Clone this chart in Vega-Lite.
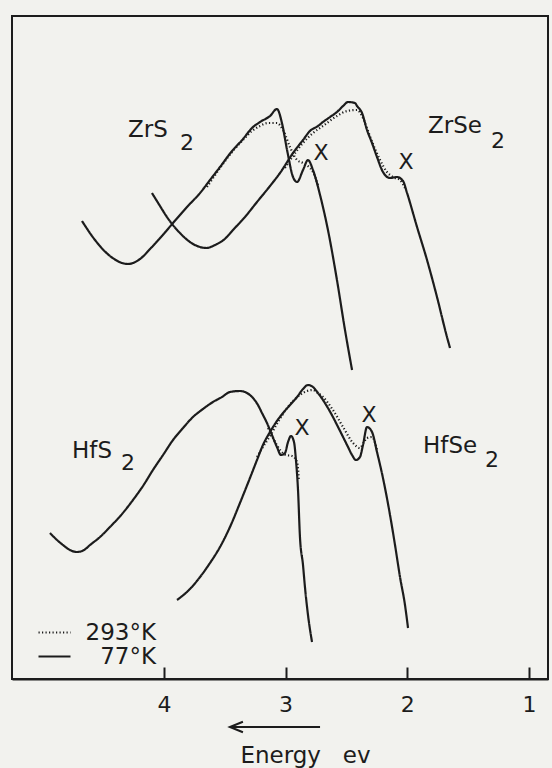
{
  "$schema": "https://vega.github.io/schema/vega-lite/v6.json",
  "width": 536,
  "height": 663,
  "autosize": {"type": "none"},
  "padding": {"left": 12, "top": 16, "right": 4, "bottom": 89},
  "background": "#f2f2ee",
  "config": {
    "view": {"stroke": "#1c1c1c", "strokeWidth": 2},
    "font": "DejaVu Sans"
  },
  "datasets": {
    "curves": [
      {"s": "ZrS2", "t": "77°K", "E": 4.673, "A": 458},
      {"s": "ZrS2", "t": "77°K", "E": 4.566, "A": 439},
      {"s": "ZrS2", "t": "77°K", "E": 4.443, "A": 423},
      {"s": "ZrS2", "t": "77°K", "E": 4.295, "A": 415},
      {"s": "ZrS2", "t": "77°K", "E": 4.196, "A": 420},
      {"s": "ZrS2", "t": "77°K", "E": 4.114, "A": 430},
      {"s": "ZrS2", "t": "77°K", "E": 4.016, "A": 443},
      {"s": "ZrS2", "t": "77°K", "E": 3.925, "A": 456},
      {"s": "ZrS2", "t": "77°K", "E": 3.810, "A": 472},
      {"s": "ZrS2", "t": "77°K", "E": 3.703, "A": 486},
      {"s": "ZrS2", "t": "77°K", "E": 3.621, "A": 499},
      {"s": "ZrS2", "t": "77°K", "E": 3.539, "A": 512},
      {"s": "ZrS2", "t": "77°K", "E": 3.440, "A": 528},
      {"s": "ZrS2", "t": "77°K", "E": 3.350, "A": 540},
      {"s": "ZrS2", "t": "77°K", "E": 3.276, "A": 551},
      {"s": "ZrS2", "t": "77°K", "E": 3.210, "A": 557},
      {"s": "ZrS2", "t": "77°K", "E": 3.128, "A": 563},
      {"s": "ZrS2", "t": "77°K", "E": 3.071, "A": 570},
      {"s": "ZrS2", "t": "77°K", "E": 3.030, "A": 556},
      {"s": "ZrS2", "t": "77°K", "E": 2.988, "A": 529},
      {"s": "ZrS2", "t": "77°K", "E": 2.939, "A": 502},
      {"s": "ZrS2", "t": "77°K", "E": 2.906, "A": 497},
      {"s": "ZrS2", "t": "77°K", "E": 2.857, "A": 509},
      {"s": "ZrS2", "t": "77°K", "E": 2.816, "A": 519},
      {"s": "ZrS2", "t": "77°K", "E": 2.775, "A": 509},
      {"s": "ZrS2", "t": "77°K", "E": 2.717, "A": 484},
      {"s": "ZrS2", "t": "77°K", "E": 2.652, "A": 449},
      {"s": "ZrS2", "t": "77°K", "E": 2.578, "A": 399},
      {"s": "ZrS2", "t": "77°K", "E": 2.512, "A": 349},
      {"s": "ZrS2", "t": "77°K", "E": 2.454, "A": 309},

      {"s": "ZrS2", "t": "293°K", "E": 3.646, "A": 492},
      {"s": "ZrS2", "t": "293°K", "E": 3.539, "A": 511},
      {"s": "ZrS2", "t": "293°K", "E": 3.440, "A": 527},
      {"s": "ZrS2", "t": "293°K", "E": 3.350, "A": 539},
      {"s": "ZrS2", "t": "293°K", "E": 3.276, "A": 548},
      {"s": "ZrS2", "t": "293°K", "E": 3.210, "A": 553},
      {"s": "ZrS2", "t": "293°K", "E": 3.145, "A": 556},
      {"s": "ZrS2", "t": "293°K", "E": 3.071, "A": 556},
      {"s": "ZrS2", "t": "293°K", "E": 3.021, "A": 549},
      {"s": "ZrS2", "t": "293°K", "E": 2.964, "A": 532},
      {"s": "ZrS2", "t": "293°K", "E": 2.906, "A": 519},
      {"s": "ZrS2", "t": "293°K", "E": 2.857, "A": 516},
      {"s": "ZrS2", "t": "293°K", "E": 2.816, "A": 513},
      {"s": "ZrS2", "t": "293°K", "E": 2.775, "A": 507},
      {"s": "ZrS2", "t": "293°K", "E": 2.734, "A": 494},

      {"s": "ZrSe2", "t": "77°K", "E": 4.098, "A": 486},
      {"s": "ZrSe2", "t": "77°K", "E": 4.032, "A": 473},
      {"s": "ZrSe2", "t": "77°K", "E": 3.975, "A": 462},
      {"s": "ZrSe2", "t": "77°K", "E": 3.868, "A": 446},
      {"s": "ZrSe2", "t": "77°K", "E": 3.786, "A": 437},
      {"s": "ZrSe2", "t": "77°K", "E": 3.703, "A": 432},
      {"s": "ZrSe2", "t": "77°K", "E": 3.650, "A": 431},
      {"s": "ZrSe2", "t": "77°K", "E": 3.580, "A": 434},
      {"s": "ZrSe2", "t": "77°K", "E": 3.500, "A": 440},
      {"s": "ZrSe2", "t": "77°K", "E": 3.432, "A": 449},
      {"s": "ZrSe2", "t": "77°K", "E": 3.334, "A": 462},
      {"s": "ZrSe2", "t": "77°K", "E": 3.235, "A": 477},
      {"s": "ZrSe2", "t": "77°K", "E": 3.128, "A": 493},
      {"s": "ZrSe2", "t": "77°K", "E": 3.046, "A": 506},
      {"s": "ZrSe2", "t": "77°K", "E": 2.939, "A": 526},
      {"s": "ZrSe2", "t": "77°K", "E": 2.857, "A": 539},
      {"s": "ZrSe2", "t": "77°K", "E": 2.800, "A": 548},
      {"s": "ZrSe2", "t": "77°K", "E": 2.734, "A": 553},
      {"s": "ZrSe2", "t": "77°K", "E": 2.693, "A": 557},
      {"s": "ZrSe2", "t": "77°K", "E": 2.635, "A": 562},
      {"s": "ZrSe2", "t": "77°K", "E": 2.578, "A": 567},
      {"s": "ZrSe2", "t": "77°K", "E": 2.528, "A": 573},
      {"s": "ZrSe2", "t": "77°K", "E": 2.487, "A": 577},
      {"s": "ZrSe2", "t": "77°K", "E": 2.430, "A": 576},
      {"s": "ZrSe2", "t": "77°K", "E": 2.413, "A": 573},
      {"s": "ZrSe2", "t": "77°K", "E": 2.372, "A": 566},
      {"s": "ZrSe2", "t": "77°K", "E": 2.331, "A": 549},
      {"s": "ZrSe2", "t": "77°K", "E": 2.290, "A": 536},
      {"s": "ZrSe2", "t": "77°K", "E": 2.249, "A": 522},
      {"s": "ZrSe2", "t": "77°K", "E": 2.200, "A": 507},
      {"s": "ZrSe2", "t": "77°K", "E": 2.142, "A": 501},
      {"s": "ZrSe2", "t": "77°K", "E": 2.085, "A": 502},
      {"s": "ZrSe2", "t": "77°K", "E": 2.035, "A": 498},
      {"s": "ZrSe2", "t": "77°K", "E": 2.002, "A": 486},
      {"s": "ZrSe2", "t": "77°K", "E": 1.920, "A": 452},
      {"s": "ZrSe2", "t": "77°K", "E": 1.838, "A": 419},
      {"s": "ZrSe2", "t": "77°K", "E": 1.756, "A": 382},
      {"s": "ZrSe2", "t": "77°K", "E": 1.674, "A": 342},
      {"s": "ZrSe2", "t": "77°K", "E": 1.649, "A": 331},

      {"s": "ZrSe2", "t": "293°K", "E": 3.005, "A": 511},
      {"s": "ZrSe2", "t": "293°K", "E": 2.939, "A": 523},
      {"s": "ZrSe2", "t": "293°K", "E": 2.857, "A": 536},
      {"s": "ZrSe2", "t": "293°K", "E": 2.775, "A": 546},
      {"s": "ZrSe2", "t": "293°K", "E": 2.693, "A": 553},
      {"s": "ZrSe2", "t": "293°K", "E": 2.578, "A": 563},
      {"s": "ZrSe2", "t": "293°K", "E": 2.495, "A": 568},
      {"s": "ZrSe2", "t": "293°K", "E": 2.413, "A": 569},
      {"s": "ZrSe2", "t": "293°K", "E": 2.364, "A": 561},
      {"s": "ZrSe2", "t": "293°K", "E": 2.323, "A": 548},
      {"s": "ZrSe2", "t": "293°K", "E": 2.282, "A": 535},
      {"s": "ZrSe2", "t": "293°K", "E": 2.224, "A": 519},
      {"s": "ZrSe2", "t": "293°K", "E": 2.167, "A": 507},
      {"s": "ZrSe2", "t": "293°K", "E": 2.118, "A": 502},
      {"s": "ZrSe2", "t": "293°K", "E": 2.060, "A": 499},
      {"s": "ZrSe2", "t": "293°K", "E": 2.019, "A": 491},

      {"s": "HfS2", "t": "77°K", "E": 4.936, "A": 146},
      {"s": "HfS2", "t": "77°K", "E": 4.878, "A": 139},
      {"s": "HfS2", "t": "77°K", "E": 4.829, "A": 134},
      {"s": "HfS2", "t": "77°K", "E": 4.772, "A": 129},
      {"s": "HfS2", "t": "77°K", "E": 4.714, "A": 127},
      {"s": "HfS2", "t": "77°K", "E": 4.656, "A": 129},
      {"s": "HfS2", "t": "77°K", "E": 4.607, "A": 134},
      {"s": "HfS2", "t": "77°K", "E": 4.525, "A": 142},
      {"s": "HfS2", "t": "77°K", "E": 4.443, "A": 152},
      {"s": "HfS2", "t": "77°K", "E": 4.344, "A": 165},
      {"s": "HfS2", "t": "77°K", "E": 4.254, "A": 179},
      {"s": "HfS2", "t": "77°K", "E": 4.172, "A": 193},
      {"s": "HfS2", "t": "77°K", "E": 4.090, "A": 209},
      {"s": "HfS2", "t": "77°K", "E": 4.007, "A": 224},
      {"s": "HfS2", "t": "77°K", "E": 3.925, "A": 239},
      {"s": "HfS2", "t": "77°K", "E": 3.843, "A": 251},
      {"s": "HfS2", "t": "77°K", "E": 3.761, "A": 262},
      {"s": "HfS2", "t": "77°K", "E": 3.679, "A": 270},
      {"s": "HfS2", "t": "77°K", "E": 3.597, "A": 277},
      {"s": "HfS2", "t": "77°K", "E": 3.523, "A": 282},
      {"s": "HfS2", "t": "77°K", "E": 3.457, "A": 287},
      {"s": "HfS2", "t": "77°K", "E": 3.375, "A": 288},
      {"s": "HfS2", "t": "77°K", "E": 3.317, "A": 286},
      {"s": "HfS2", "t": "77°K", "E": 3.268, "A": 281},
      {"s": "HfS2", "t": "77°K", "E": 3.227, "A": 274},
      {"s": "HfS2", "t": "77°K", "E": 3.194, "A": 266},
      {"s": "HfS2", "t": "77°K", "E": 3.153, "A": 256},
      {"s": "HfS2", "t": "77°K", "E": 3.112, "A": 244},
      {"s": "HfS2", "t": "77°K", "E": 3.071, "A": 232},
      {"s": "HfS2", "t": "77°K", "E": 3.038, "A": 224},
      {"s": "HfS2", "t": "77°K", "E": 3.005, "A": 226},
      {"s": "HfS2", "t": "77°K", "E": 2.980, "A": 237},
      {"s": "HfS2", "t": "77°K", "E": 2.956, "A": 243},
      {"s": "HfS2", "t": "77°K", "E": 2.931, "A": 237},
      {"s": "HfS2", "t": "77°K", "E": 2.915, "A": 219},
      {"s": "HfS2", "t": "77°K", "E": 2.898, "A": 189},
      {"s": "HfS2", "t": "77°K", "E": 2.882, "A": 142},
      {"s": "HfS2", "t": "77°K", "E": 2.857, "A": 114},
      {"s": "HfS2", "t": "77°K", "E": 2.841, "A": 92},
      {"s": "HfS2", "t": "77°K", "E": 2.816, "A": 64},
      {"s": "HfS2", "t": "77°K", "E": 2.783, "A": 37},

      {"s": "HfS2", "t": "293°K", "E": 3.145, "A": 251},
      {"s": "HfS2", "t": "293°K", "E": 3.095, "A": 239},
      {"s": "HfS2", "t": "293°K", "E": 3.046, "A": 229},
      {"s": "HfS2", "t": "293°K", "E": 2.997, "A": 224},
      {"s": "HfS2", "t": "293°K", "E": 2.947, "A": 223},
      {"s": "HfS2", "t": "293°K", "E": 2.906, "A": 217},
      {"s": "HfS2", "t": "293°K", "E": 2.890, "A": 199},

      {"s": "HfSe2", "t": "77°K", "E": 3.892, "A": 79},
      {"s": "HfSe2", "t": "77°K", "E": 3.786, "A": 90},
      {"s": "HfSe2", "t": "77°K", "E": 3.703, "A": 102},
      {"s": "HfSe2", "t": "77°K", "E": 3.621, "A": 116},
      {"s": "HfSe2", "t": "77°K", "E": 3.539, "A": 132},
      {"s": "HfSe2", "t": "77°K", "E": 3.457, "A": 152},
      {"s": "HfSe2", "t": "77°K", "E": 3.375, "A": 176},
      {"s": "HfSe2", "t": "77°K", "E": 3.309, "A": 196},
      {"s": "HfSe2", "t": "77°K", "E": 3.235, "A": 219},
      {"s": "HfSe2", "t": "77°K", "E": 3.186, "A": 234},
      {"s": "HfSe2", "t": "77°K", "E": 3.128, "A": 247},
      {"s": "HfSe2", "t": "77°K", "E": 3.071, "A": 258},
      {"s": "HfSe2", "t": "77°K", "E": 3.021, "A": 266},
      {"s": "HfSe2", "t": "77°K", "E": 2.964, "A": 274},
      {"s": "HfSe2", "t": "77°K", "E": 2.906, "A": 282},
      {"s": "HfSe2", "t": "77°K", "E": 2.857, "A": 290},
      {"s": "HfSe2", "t": "77°K", "E": 2.816, "A": 294},
      {"s": "HfSe2", "t": "77°K", "E": 2.775, "A": 292},
      {"s": "HfSe2", "t": "77°K", "E": 2.734, "A": 286},
      {"s": "HfSe2", "t": "77°K", "E": 2.693, "A": 279},
      {"s": "HfSe2", "t": "77°K", "E": 2.652, "A": 271},
      {"s": "HfSe2", "t": "77°K", "E": 2.611, "A": 262},
      {"s": "HfSe2", "t": "77°K", "E": 2.569, "A": 252},
      {"s": "HfSe2", "t": "77°K", "E": 2.528, "A": 242},
      {"s": "HfSe2", "t": "77°K", "E": 2.487, "A": 232},
      {"s": "HfSe2", "t": "77°K", "E": 2.454, "A": 224},
      {"s": "HfSe2", "t": "77°K", "E": 2.422, "A": 219},
      {"s": "HfSe2", "t": "77°K", "E": 2.389, "A": 222},
      {"s": "HfSe2", "t": "77°K", "E": 2.364, "A": 234},
      {"s": "HfSe2", "t": "77°K", "E": 2.331, "A": 252},
      {"s": "HfSe2", "t": "77°K", "E": 2.290, "A": 247},
      {"s": "HfSe2", "t": "77°K", "E": 2.249, "A": 227},
      {"s": "HfSe2", "t": "77°K", "E": 2.200, "A": 201},
      {"s": "HfSe2", "t": "77°K", "E": 2.142, "A": 164},
      {"s": "HfSe2", "t": "77°K", "E": 2.101, "A": 134},
      {"s": "HfSe2", "t": "77°K", "E": 2.060, "A": 102},
      {"s": "HfSe2", "t": "77°K", "E": 2.019, "A": 74},
      {"s": "HfSe2", "t": "77°K", "E": 1.994, "A": 51},

      {"s": "HfSe2", "t": "293°K", "E": 3.235, "A": 222},
      {"s": "HfSe2", "t": "293°K", "E": 3.186, "A": 232},
      {"s": "HfSe2", "t": "293°K", "E": 3.128, "A": 243},
      {"s": "HfSe2", "t": "293°K", "E": 3.062, "A": 257},
      {"s": "HfSe2", "t": "293°K", "E": 2.988, "A": 271},
      {"s": "HfSe2", "t": "293°K", "E": 2.882, "A": 284},
      {"s": "HfSe2", "t": "293°K", "E": 2.824, "A": 288},
      {"s": "HfSe2", "t": "293°K", "E": 2.775, "A": 289},
      {"s": "HfSe2", "t": "293°K", "E": 2.734, "A": 286},
      {"s": "HfSe2", "t": "293°K", "E": 2.693, "A": 282},
      {"s": "HfSe2", "t": "293°K", "E": 2.611, "A": 269},
      {"s": "HfSe2", "t": "293°K", "E": 2.528, "A": 252},
      {"s": "HfSe2", "t": "293°K", "E": 2.446, "A": 236},
      {"s": "HfSe2", "t": "293°K", "E": 2.389, "A": 231},
      {"s": "HfSe2", "t": "293°K", "E": 2.356, "A": 237},
      {"s": "HfSe2", "t": "293°K", "E": 2.331, "A": 241},
      {"s": "HfSe2", "t": "293°K", "E": 2.290, "A": 242},
      {"s": "HfSe2", "t": "293°K", "E": 2.249, "A": 229}
    ],
    "names": [
      {"text": "ZrS", "E": 4.295, "A": 542},
      {"text": "ZrSe", "E": 1.830, "A": 546},
      {"text": "HfS", "E": 4.755, "A": 221},
      {"text": "HfSe", "E": 1.871, "A": 226}
    ],
    "subs": [
      {"text": "2", "E": 3.810, "A": 529},
      {"text": "2", "E": 1.255, "A": 531},
      {"text": "2", "E": 4.295, "A": 209},
      {"text": "2", "E": 1.304, "A": 212}
    ],
    "marks": [
      {"text": "X", "E": 2.709, "A": 519},
      {"text": "X", "E": 2.011, "A": 510},
      {"text": "X", "E": 2.865, "A": 244},
      {"text": "X", "E": 2.315, "A": 257}
    ],
    "arrow": [
      {"E": 3.440, "E2": 2.717, "A": -48, "H": 3.404}
    ]
  },
  "layer": [
    {
      "data": {"name": "curves"},
      "mark": {"type": "line", "strokeWidth": 2.2, "color": "#1c1c1c", "interpolate": "monotone"},
      "encoding": {
        "x": {
          "field": "E", "type": "quantitative",
          "scale": {"domain": [0.844, 5.248], "reverse": true, "nice": false, "zero": false},
          "axis": {
            "values": [1, 2, 3, 4], "format": "d", "grid": false,
            "tickSize": -12, "tickWidth": 2, "tickColor": "#1c1c1c",
            "domainWidth": 2, "domainColor": "#1c1c1c",
            "labelFontSize": 22, "labelFont": "DejaVu Sans", "labelColor": "#1c1c1c",
            "labelPadding": 27,
            "title": "Energy\u00a0\u00a0\u00a0ev",
            "titleFontSize": 23, "titleFont": "DejaVu Sans", "titleFontWeight": "normal",
            "titleColor": "#1c1c1c", "titleX": 293, "titleY": 83,
            "titleAlign": "center", "titleBaseline": "alphabetic"
          }
        },
        "y": {
          "field": "A", "type": "quantitative",
          "scale": {"domain": [0, 663], "nice": false, "zero": false},
          "axis": null
        },
        "detail": {"field": "s"},
        "strokeDash": {
          "field": "t", "type": "nominal",
          "scale": {"domain": ["293°K", "77°K"], "range": [[1.2, 2.3], [1, 0]]},
          "legend": {
            "title": null, "orient": "none", "legendX": 31, "legendY": 605,
            "symbolType": "M-3.2,0H3.2", "symbolSize": 100, "symbolStrokeWidth": 2,
            "symbolStrokeColor": "#1c1c1c", "symbolFillColor": "transparent",
            "labelFontSize": 23, "labelFont": "DejaVu Sans", "labelColor": "#1c1c1c",
            "labelAlign": "right", "labelOffset": 90, "rowPadding": 0
          }
        }
      }
    },
    {
      "data": {"name": "names"},
      "mark": {"type": "text", "fontSize": 23, "align": "left", "baseline": "alphabetic", "color": "#1c1c1c"},
      "encoding": {
        "x": {"field": "E", "type": "quantitative"},
        "y": {"field": "A", "type": "quantitative"},
        "text": {"field": "text"}
      }
    },
    {
      "data": {"name": "subs"},
      "mark": {"type": "text", "fontSize": 22, "align": "center", "baseline": "alphabetic", "color": "#1c1c1c"},
      "encoding": {
        "x": {"field": "E", "type": "quantitative"},
        "y": {"field": "A", "type": "quantitative"},
        "text": {"field": "text"}
      }
    },
    {
      "data": {"name": "marks"},
      "mark": {"type": "text", "fontSize": 22, "align": "center", "baseline": "alphabetic", "color": "#1c1c1c"},
      "encoding": {
        "x": {"field": "E", "type": "quantitative"},
        "y": {"field": "A", "type": "quantitative"},
        "text": {"field": "text"}
      }
    },
    {
      "data": {"name": "arrow"},
      "mark": {"type": "rule", "strokeWidth": 2, "color": "#1c1c1c"},
      "encoding": {
        "x": {"field": "E", "type": "quantitative"},
        "x2": {"field": "E2"},
        "y": {"field": "A", "type": "quantitative"}
      }
    },
    {
      "data": {"name": "arrow"},
      "mark": {"type": "point", "shape": "M1,-0.8L-1,0L1,0.8", "size": 169, "filled": false, "strokeWidth": 2, "color": "#1c1c1c", "opacity": 1},
      "encoding": {
        "x": {"field": "H", "type": "quantitative"},
        "y": {"field": "A", "type": "quantitative"}
      }
    }
  ]
}
